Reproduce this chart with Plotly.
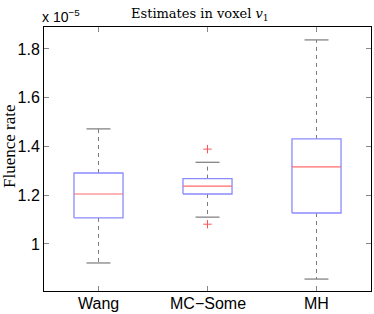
import plotly.graph_objects as go

categories = ["Wang", "MC\u2212Some", "MH"]
lower_whisker = [0.922, 1.110, 0.856]
q1 = [1.107, 1.205, 1.127]
median = [1.205, 1.237, 1.316]
q3 = [1.291, 1.268, 1.431]
upper_whisker = [1.472, 1.335, 1.837]
outlier_cat = [2, 2]
outlier_val = [1.389, 1.081]
y_ticks = [1.0, 1.2, 1.4, 1.6, 1.8]
y_tick_labels = ["1", "1.2", "1.4", "1.6", "1.8"]

BOX_HALF = 0.225
CAP_HALF = 0.11
box_color = "#8a8aff"
med_color = "#ff6a6a"
wh_color = "#7a7a7a"

fig = go.Figure()
for i, c in enumerate(categories):
    x = i + 1
    fig.add_trace(go.Scatter(x=[x, x, None, x, x], y=[q3[i], upper_whisker[i], None, q1[i], lower_whisker[i]],
                             mode="lines", line=dict(color=wh_color, width=1, dash="4px,4px"),
                             hoverinfo="skip", showlegend=False))
    fig.add_trace(go.Scatter(x=[x - CAP_HALF, x + CAP_HALF, None, x - CAP_HALF, x + CAP_HALF],
                             y=[upper_whisker[i], upper_whisker[i], None, lower_whisker[i], lower_whisker[i]],
                             mode="lines", line=dict(color=wh_color, width=1.2),
                             hoverinfo="skip", showlegend=False))
    fig.add_trace(go.Scatter(x=[x - BOX_HALF, x + BOX_HALF, x + BOX_HALF, x - BOX_HALF, x - BOX_HALF],
                             y=[q1[i], q1[i], q3[i], q3[i], q1[i]],
                             mode="lines", line=dict(color=box_color, width=1.3),
                             hoverinfo="skip", showlegend=False))
    fig.add_trace(go.Scatter(x=[x - BOX_HALF, x + BOX_HALF], y=[median[i], median[i]],
                             mode="lines", line=dict(color=med_color, width=1.2),
                             hoverinfo="skip", showlegend=False))

fig.add_trace(go.Scatter(x=outlier_cat, y=outlier_val, mode="markers",
                         marker=dict(symbol="cross-thin", size=6, line=dict(color="#ff5555", width=1)),
                         hoverinfo="skip", showlegend=False))

annotations = [
    dict(text="Estimates in voxel <i>v</i><sub>1</sub>", x=(129 - 44) / 327, xref="paper", xanchor="left",
         y=1.0, yref="paper", yanchor="bottom", yshift=2, showarrow=False,
         font=dict(family="DejaVu Serif", size=13)),
    dict(text="x 10<sup>\u22125</sup>", x=0, xref="paper", xanchor="left", xshift=-4,
         y=1.0, yref="paper", yanchor="bottom", yshift=0, showarrow=False,
         font=dict(family="Liberation Sans, Arial, sans-serif", size=14)),
    dict(text="Fluence rate", textangle=-90, x=0, xref="paper", xanchor="center", xshift=-35,
         y=0.5, yref="paper", yanchor="middle", yshift=13, showarrow=False,
         font=dict(family="Liberation Serif", size=17)),
]
for i, c in enumerate(categories):
    annotations.append(dict(text=c, x=i + 1, xref="x", y=0, yref="paper", yanchor="top", yshift=-2,
                            showarrow=False, font=dict(family="Liberation Sans, Arial, sans-serif", size=16)))

fig.update_layout(
    width=374, height=314,
    margin=dict(l=44, r=3, t=27, b=23),
    paper_bgcolor="white", plot_bgcolor="white",
    font=dict(family="Liberation Sans, Arial, sans-serif", size=16, color="black"),
    xaxis=dict(range=[0.5, 3.5], tickvals=[1, 2, 3], showticklabels=False,
               ticks="inside", ticklen=5, tickcolor="#888", showline=True, linecolor="black",
               linewidth=1, mirror="ticks", showgrid=False, zeroline=False),
    yaxis=dict(range=[0.807, 1.890], tickvals=y_ticks, ticktext=y_tick_labels,
               ticks="inside", ticklen=5, tickcolor="#888", showline=True, linecolor="black",
               linewidth=1, mirror="ticks", showgrid=False, zeroline=False,
               tickfont=dict(size=16)),
    annotations=annotations,
)

fig.write_html("out.html", config={"displayModeBar": False},
               post_script="document.body.style.margin='0';document.body.style.overflow='hidden';")
